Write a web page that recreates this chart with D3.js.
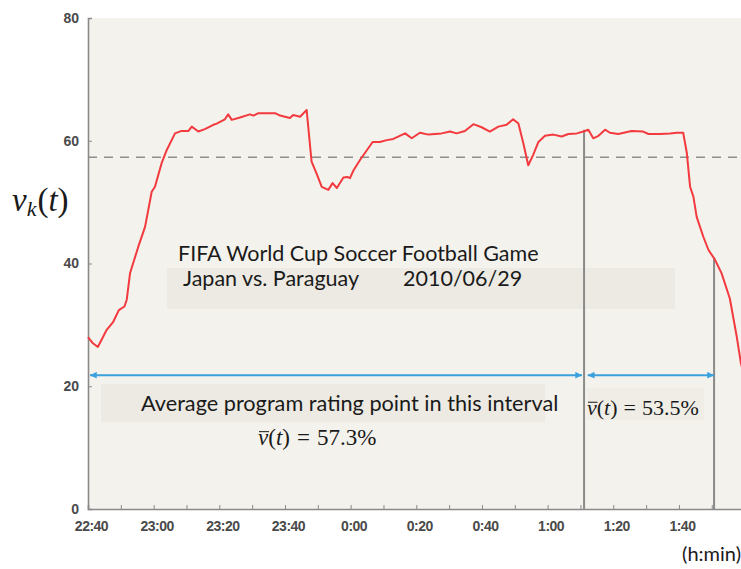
<!DOCTYPE html>
<html>
<head>
<meta charset="utf-8">
<script src="https://cdn.jsdelivr.net/npm/d3@7"></script>
<style>
  html, body { margin: 0; padding: 0; background: #ffffff; }
  svg { display: block; }
</style>
</head>
<body>
<div id="chart"></div>
<script>
// minutes after 22:40
var ratingMinutes = [0, 1.5, 3, 5.7, 7.7, 9.4, 11.1, 11.8, 12.8, 15.3, 17.4, 19.4, 20.4, 22.4, 24.0,
    26.5, 28.5, 30.6, 31.6, 33.6, 35.6, 38.2, 39.2, 41.7, 42.7, 43.8, 46.3, 49.3, 50.4, 51.9,
    57.0, 58.5, 61.5, 62.5, 64.6, 66.6, 68.1, 69.6, 71.2, 73.2, 74.5, 75.8, 77.8, 79.0, 79.8,
    80.8, 82.9, 86.7, 88.9, 91.0, 93.0, 96.6, 98.6, 101.1, 103.7, 107.7, 110.3, 112.3, 114.8,
    117.4, 119.9, 122.4, 125.0, 127.5, 129.5, 131.1, 132.6, 134.1, 135.6, 137.2, 139.2, 141.7,
    144.3, 146.3, 148.9, 150.9, 152.4, 153.9, 155.5, 157.5, 159.0, 161.5, 165.6, 169.1, 170.7,
    174.2, 177.3, 179.3, 181.3, 182.4, 183.4, 184.4, 185.4, 187.4, 189.0, 191.0, 193.0, 195.5,
    197.6, 198.9, 200.5];
var ratingValues = [28.0, 27.0, 26.4, 29.2, 30.5, 32.4, 33.0, 34.1, 38.4, 42.7, 46.0, 51.7, 52.5, 56.3, 58.5,
    61.2, 61.6, 61.6, 62.3, 61.5, 61.9, 62.6, 62.8, 63.5, 64.3, 63.4, 63.8, 64.3, 64.1, 64.5,
    64.5, 64.1, 63.7, 64.2, 63.9, 65.0, 56.6, 54.7, 52.5, 52.0, 53.1, 52.3, 54.0, 54.1, 53.9,
    55.1, 56.9, 59.8, 59.8, 60.1, 60.3, 61.2, 60.4, 61.3, 61.0, 61.2, 61.5, 61.2, 61.6,
    62.7, 62.2, 61.5, 62.3, 62.6, 63.5, 62.8, 59.6, 56.0, 57.7, 59.8, 60.8, 61.0,
    60.7, 61.1, 61.2, 61.5, 61.8, 60.4, 60.8, 61.8, 61.3, 61.1, 61.6, 61.5, 61.1,
    61.1, 61.2, 61.3, 61.3, 58.0, 52.5, 50.9, 47.6, 44.4, 42.2, 40.6, 38.4, 34.3,
    28.1, 23.7, 20.5];

var xTickLabels = ['22:40', '23:00', '23:20', '23:40', '0:00', '0:20', '0:40', '1:00', '1:20', '1:40'];
var yTickValues = [0, 20, 40, 60, 80];

var averageRating = 57.3;
var markerMinutes = [151.1, 190.7];
var markerTops = [61.8, 41.0];
var arrowStarts = [0.6, 152.2];
var arrowEnds = [150.5, 190.7];
var arrowLevel = 21.8;

function drawRatingChart() {
    var width = 741, height = 569;
    var plotLeft = 88, plotTop = 18, plotBottom = 509;

    var svg = d3.select('#chart').append('svg')
        .attr('width', width)
        .attr('height', height);

    var x = d3.scaleLinear().domain([0, 200]).range([plotLeft, plotLeft + 200 * 3.283]);
    var y = d3.scaleLinear().domain([0, 80]).range([plotBottom, plotTop]);

    var defs = svg.append('defs');
    ['arrow-end', 'arrow-start'].forEach(function(id, i) {
        defs.append('marker')
            .attr('id', id)
            .attr('viewBox', '0 0 10 10')
            .attr('refX', i === 0 ? 10 : 0).attr('refY', 5)
            .attr('markerWidth', 5).attr('markerHeight', 3.4)
            .attr('markerUnits', 'strokeWidth')
            .attr('orient', 'auto')
            .append('path')
            .attr('d', i === 0 ? 'M0,0 L10,5 L0,10 z' : 'M10,0 L0,5 L10,10 z')
            .attr('fill', '#3ba1dd');
    });

    // plot background
    svg.append('rect')
        .attr('x', plotLeft).attr('y', plotTop)
        .attr('width', width - plotLeft).attr('height', plotBottom - plotTop)
        .attr('fill', '#f4f2ec');

    // shaded text boxes
    svg.append('rect').attr('x', 167).attr('y', 268).attr('width', 508).attr('height', 41).attr('fill', '#eceae2');
    svg.append('rect').attr('x', 101).attr('y', 384).attr('width', 444).attr('height', 38).attr('fill', '#eceae2');
    svg.append('rect').attr('x', 587).attr('y', 388).attr('width', 117).attr('height', 32).attr('fill', '#efede6');

    // average dashed line
    svg.append('line')
        .attr('x1', plotLeft).attr('x2', width)
        .attr('y1', y(averageRating)).attr('y2', y(averageRating))
        .attr('stroke', '#8e8e8e').attr('stroke-width', 1.6)
        .attr('stroke-dasharray', '9,7');

    // axes
    var xAxis = d3.axisBottom(x)
        .tickValues(d3.range(0, 200, 10))
        .tickSize(-4)
        .tickPadding(12)
        .tickFormat(function(d) { return d % 20 === 0 ? (xTickLabels[d / 20] || '') : ''; });

    var gx = svg.append('g')
        .attr('transform', 'translate(0,' + plotBottom + ')')
        .call(xAxis);
    gx.select('.domain').attr('stroke', '#8a8a8a').attr('stroke-width', 1.6);
    gx.selectAll('.tick line').attr('stroke', '#8a8a8a');
    gx.selectAll('.tick text')
        .attr('dx', 3)
        .attr('fill', '#4a4a4a')
        .style('font-family', '"Liberation Sans", Arial, sans-serif')
        .style('font-size', '14px')
        .style('font-weight', 'bold')
        .style('letter-spacing', '-0.5px');

    var yAxis = d3.axisLeft(y)
        .tickValues(yTickValues)
        .tickSize(-4)
        .tickPadding(9);
    var gy = svg.append('g')
        .attr('transform', 'translate(' + plotLeft + ',0)')
        .call(yAxis);
    gy.select('.domain').attr('stroke', '#8a8a8a').attr('stroke-width', 1.6);
    gy.selectAll('.tick line').attr('stroke', '#8a8a8a');
    gy.selectAll('.tick text')
        .attr('fill', '#4a4a4a')
        .style('font-family', '"Liberation Sans", Arial, sans-serif')
        .style('font-size', '14px')
        .style('font-weight', 'bold');

    // vertical interval markers
    svg.selectAll('line.marker')
        .data(markerMinutes)
        .enter()
        .append('line')
        .attr('class', 'marker')
        .attr('x1', function(d) { return x(d); })
        .attr('x2', function(d) { return x(d); })
        .attr('y1', y(0))
        .attr('y2', function(d, i) { return y(markerTops[i]); })
        .attr('stroke', '#8a8a8a')
        .attr('stroke-width', 2);

    // rating line
    var ratingData = ratingMinutes.map(function(m, i) { return { t: m, v: ratingValues[i] }; });
    var line = d3.line()
        .x(function(d) { return x(d.t); })
        .y(function(d) { return y(d.v); });

    svg.append('path')
        .datum(ratingData)
        .attr('fill', 'none')
        .attr('stroke', '#f23a3f')
        .attr('stroke-width', 2)
        .attr('stroke-linejoin', 'round')
        .attr('d', line);

    // interval arrows
    svg.selectAll('line.arrow')
        .data(arrowStarts)
        .enter()
        .append('line')
        .attr('class', 'arrow')
        .attr('x1', function(d) { return x(d); })
        .attr('x2', function(d, i) { return x(arrowEnds[i]); })
        .attr('y1', y(arrowLevel)).attr('y2', y(arrowLevel))
        .attr('stroke', '#3ba1dd')
        .attr('stroke-width', 2)
        .attr('marker-start', 'url(#arrow-start)')
        .attr('marker-end', 'url(#arrow-end)');

    // text
    var sans = 'Lato, "Open Sans", sans-serif';
    var serif = '"Liberation Serif", "DejaVu Serif", serif';

    function textAt(tx, ty, str, size, anchor) {
        return svg.append('text')
            .attr('x', tx).attr('y', ty)
            .attr('text-anchor', anchor || 'start')
            .attr('fill', '#1a1a1a')
            .style('font-family', sans)
            .style('font-size', size + 'px')
            .text(str);
    }

    textAt(178, 261, 'FIFA World Cup Soccer Football Game', 21.5);
    textAt(183, 286, 'Japan vs. Paraguay', 21.5);
    textAt(403, 286, '2010/06/29', 21.5);
    textAt(141, 411, 'Average program rating point in this interval', 21.7);
    textAt(741, 561, '(h:min)', 20, 'end');

    function mathAt(tx, ty, value, size, gap) {
        var t = svg.append('text')
            .attr('x', tx).attr('y', ty)
            .attr('fill', '#1a1a1a')
            .style('font-family', serif)
            .style('font-size', size + 'px');
        t.append('tspan').style('font-style', 'italic').text('v');
        t.append('tspan').text('(');
        t.append('tspan').style('font-style', 'italic').text('t');
        t.append('tspan').text(')');
        t.append('tspan').attr('dx', gap).text('=');
        t.append('tspan').attr('dx', gap).text(value + '%');
        // bar over v
        svg.append('line')
            .attr('x1', tx + 1).attr('x2', tx + size * 0.48)
            .attr('y1', ty - size * 0.58).attr('y2', ty - size * 0.58)
            .attr('stroke', '#1a1a1a').attr('stroke-width', 1);
        return t;
    }
    mathAt(258, 445, '57.3', 23, 7);
    mathAt(587, 415, '53.5', 22, 6);

    // y axis label v_k(t)
    var yl = svg.append('text')
        .attr('x', 12).attr('y', 211)
        .attr('fill', '#1a1a1a')
        .style('font-family', serif)
        .style('font-size', '33px');
    yl.append('tspan').style('font-style', 'italic').text('v');
    yl.append('tspan').style('font-style', 'italic').style('font-size', '22px').attr('dy', 5).text('k');
    yl.append('tspan').attr('dy', -5).attr('dx', 1).text('(');
    yl.append('tspan').style('font-style', 'italic').text('t');
    yl.append('tspan').text(')');
}

drawRatingChart();
</script>
</body>
</html>
